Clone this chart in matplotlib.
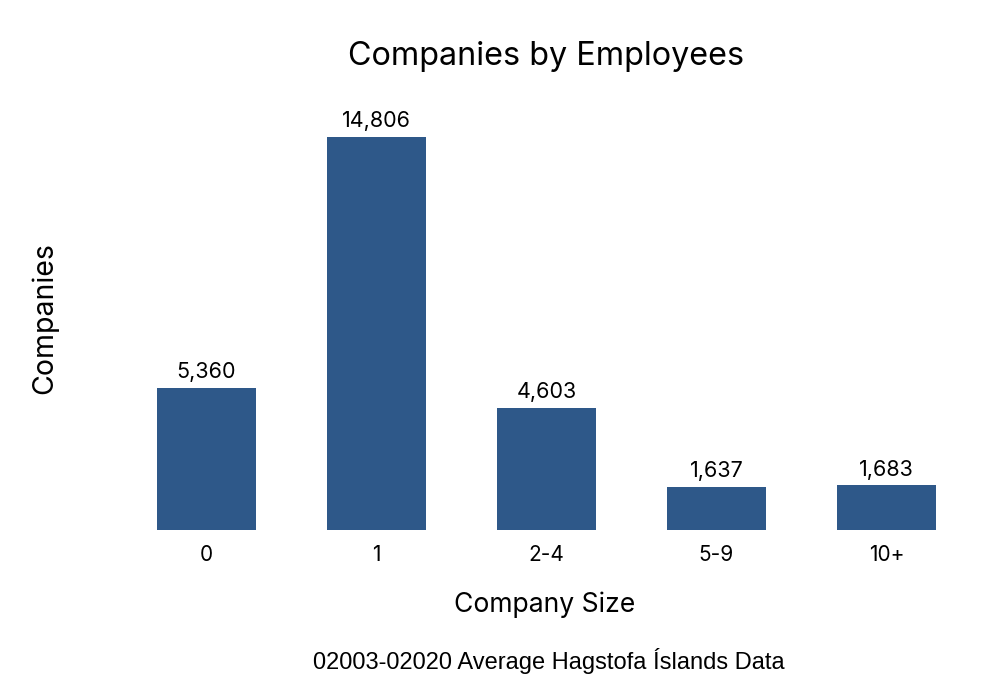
import matplotlib
matplotlib.use("Agg")
import matplotlib.pyplot as plt

sizes = ["0", "1", "2-4", "5-9", "10+"]
companies = [5360, 14806, 4603, 1637, 1683]

bar_color = "#2e5889"

plt.rcParams["font.family"] = ["Inter", "DejaVu Sans"]

fig = plt.figure(figsize=(10, 6.97), dpi=100)
ax = fig.add_axes([0.1215, 0.2396, 0.85, 0.6093])

x = range(len(sizes))
bars = ax.bar(x, companies, width=0.58, color=bar_color)
ax.set_xlim(-0.5, len(sizes) - 0.5)
ax.set_ylim(0, 16000)

for b, v in zip(bars, companies):
    ax.annotate(f"{v:,}", (b.get_x() + b.get_width() / 2, v),
                xytext=(0, 4), textcoords="offset points",
                ha="center", va="bottom", fontsize=15.5)

ax.set_xticks(list(x))
ax.set_xticklabels(sizes, fontsize=15)
ax.tick_params(axis="x", length=0, pad=11)
ax.set_yticks([])
ax.spines[:].set_visible(False)

fig.text(0.546, 1 - 57 / 697, "Companies by Employees", ha="center", va="center", fontsize=23.3)
fig.text(0.045, 1 - 318 / 697, "Companies", ha="center", va="center", rotation=90, fontsize=20.5)
fig.text(0.545, 1 - 605 / 697, "Company Size", ha="center", va="center", fontsize=19.1)
fig.text(0.549, 1 - 661 / 697, "02003-02020 Average Hagstofa Íslands Data",
         ha="center", va="center", fontsize=17, family=["Liberation Sans", "DejaVu Sans"])

fig.savefig("out.png", dpi=100, facecolor="white")
